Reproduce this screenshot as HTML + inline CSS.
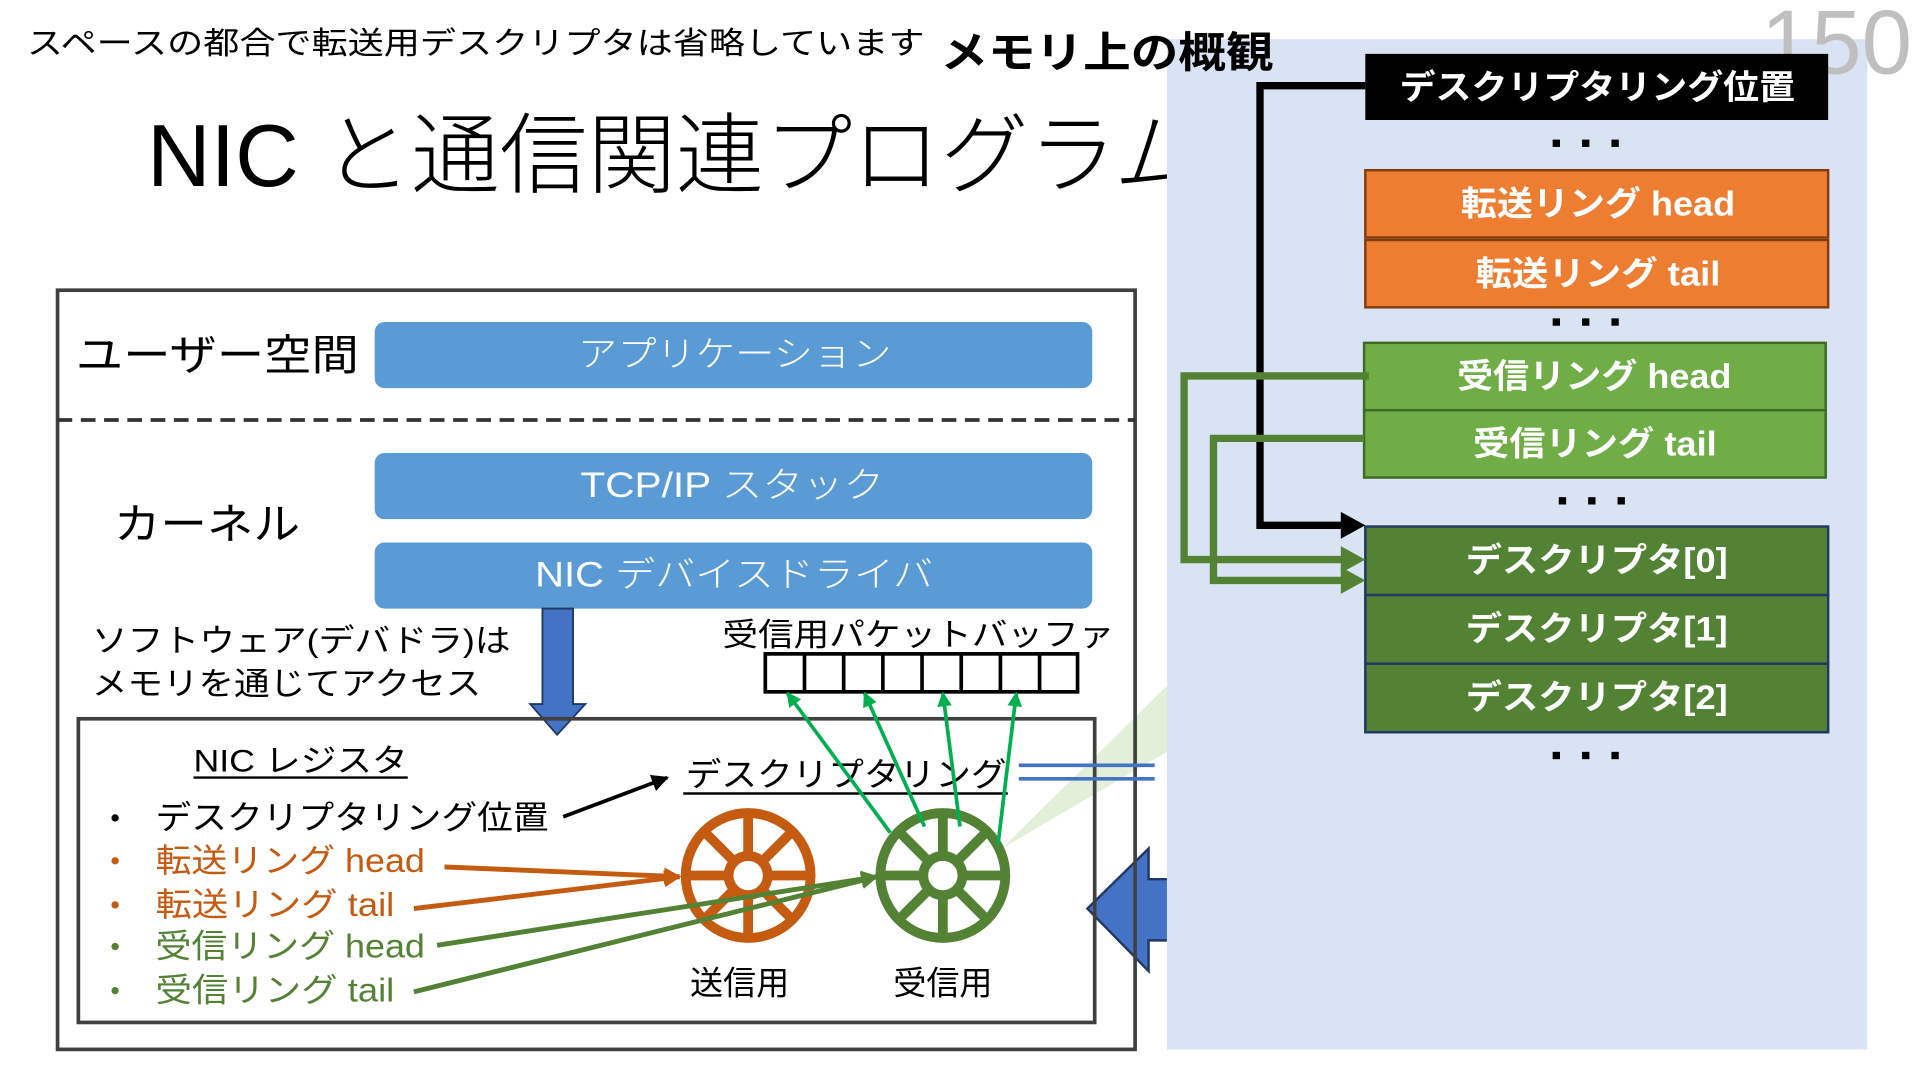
<!DOCTYPE html>
<html><head><meta charset="utf-8"><style>
html,body{margin:0;padding:0;background:#fff;width:1920px;height:1080px;overflow:hidden}
svg{display:block}
text{font-family:"Liberation Sans","Noto Sans CJK JP",sans-serif}
</style></head><body>
<svg width="1920" height="1080" viewBox="0 0 1568 882" preserveAspectRatio="none" xmlns="http://www.w3.org/2000/svg">
<defs>
<marker id="ao" viewBox="0 0 10 10" markerWidth="14" markerHeight="14" refX="9" refY="5" orient="auto" markerUnits="userSpaceOnUse"><path d="M0,0 L10,5 L0,10 Z" fill="#c55a11"/></marker>
<marker id="ag" viewBox="0 0 10 10" markerWidth="14" markerHeight="14" refX="9" refY="5" orient="auto" markerUnits="userSpaceOnUse"><path d="M0,0 L10,5 L0,10 Z" fill="#548235"/></marker>
<marker id="abr" viewBox="0 0 10 10" markerWidth="12" markerHeight="12" refX="9" refY="5" orient="auto" markerUnits="userSpaceOnUse"><path d="M0,0 L10,5 L0,10 Z" fill="#00b050"/></marker>
<marker id="ak" viewBox="0 0 10 10" markerWidth="14" markerHeight="14" refX="9" refY="5" orient="auto" markerUnits="userSpaceOnUse"><path d="M0,0 L10,5 L0,10 Z" fill="#000"/></marker>
</defs>

<text x="22" y="44" font-size="25.5" fill="#000" textLength="733" lengthAdjust="spacingAndGlyphs">スペースの都合で転送用デスクリプタは省略しています</text>
<text x="120" y="152" font-size="72" fill="#000" font-weight="300">NIC と通信関連プログラム</text>

<path d="M888,742 L938,693 L938,718 L960,718 L960,768 L938,768 L938,793 Z" fill="#4472c4" stroke="#1f3864" stroke-width="2"/>
<polygon points="818,693 953,560 953,614" fill="#e2efd9"/>

<rect x="953" y="32" width="572" height="825" fill="#dae3f3"/>
<text x="768" y="55" font-size="35" font-weight="bold" fill="#000" textLength="272" lengthAdjust="spacingAndGlyphs">メモリ上の概観</text>
<text x="1438" y="60" font-size="74" fill="#bfbfbf" font-weight="300">150</text>

<rect x="47" y="237" width="880" height="620" fill="none" stroke="#404040" stroke-width="3"/>
<text x="62" y="302" font-size="35" fill="#000" textLength="231" lengthAdjust="spacingAndGlyphs">ユーザー空間</text>
<rect x="306" y="263" width="586" height="54" rx="8" fill="#5b9bd5"/>
<text x="472" y="299" font-size="29" fill="#fff" font-weight="300" textLength="256" lengthAdjust="spacingAndGlyphs">アプリケーション</text>
<line x1="47" y1="343" x2="927" y2="343" stroke="#333" stroke-width="3" stroke-dasharray="12 7"/>
<rect x="306" y="370" width="586" height="54" rx="8" fill="#5b9bd5"/>
<text x="474" y="406" font-size="29" fill="#fff" font-weight="300" textLength="248" lengthAdjust="spacingAndGlyphs">TCP/IP スタック</text>
<rect x="306" y="443" width="586" height="54" rx="8" fill="#5b9bd5"/>
<text x="437" y="479" font-size="29" fill="#fff" font-weight="300" textLength="325" lengthAdjust="spacingAndGlyphs">NIC デバイスドライバ</text>
<text x="93" y="440" font-size="35" fill="#000" textLength="152" lengthAdjust="spacingAndGlyphs">カーネル</text>
<text x="75" y="532" font-size="26" fill="#000" textLength="342" lengthAdjust="spacingAndGlyphs">ソフトウェア(デバドラ)は</text>
<text x="75" y="567" font-size="26" fill="#000" textLength="318" lengthAdjust="spacingAndGlyphs">メモリを通じてアクセス</text>
<path d="M443,497 L468,497 L468,575 L478,575 L455,600 L433,575 L443,575 Z" fill="#4472c4" stroke="#1f3864" stroke-width="1.5"/>
<text x="590" y="527" font-size="26" fill="#000" textLength="320" lengthAdjust="spacingAndGlyphs">受信用パケットバッファ</text>
<rect x="625" y="534" width="255" height="31" fill="#fff" stroke="#000" stroke-width="3"/>
<g stroke="#000" stroke-width="3">
<line x1="657" y1="534" x2="657" y2="565"/><line x1="689" y1="534" x2="689" y2="565"/><line x1="721" y1="534" x2="721" y2="565"/><line x1="753" y1="534" x2="753" y2="565"/><line x1="785" y1="534" x2="785" y2="565"/><line x1="817" y1="534" x2="817" y2="565"/><line x1="849" y1="534" x2="849" y2="565"/>
</g>

<rect x="64" y="587" width="830" height="248" fill="none" stroke="#404040" stroke-width="3"/>
<text x="158" y="630" font-size="26" fill="#000" textLength="175" lengthAdjust="spacingAndGlyphs">NIC レジスタ</text>
<line x1="158" y1="635" x2="333" y2="635" stroke="#000" stroke-width="2"/>
<circle cx="94" cy="668" r="3" fill="#000"/>
<text x="127" y="677" font-size="27" fill="#000" textLength="321" lengthAdjust="spacingAndGlyphs">デスクリプタリング位置</text>
<circle cx="94" cy="703" r="3" fill="#c55a11"/>
<text x="127" y="712" font-size="27" fill="#c55a11" textLength="220" lengthAdjust="spacingAndGlyphs">転送リング head</text>
<circle cx="94" cy="739" r="3" fill="#c55a11"/>
<text x="127" y="748" font-size="27" fill="#c55a11" textLength="195" lengthAdjust="spacingAndGlyphs">転送リング tail</text>
<circle cx="94" cy="773" r="3" fill="#548235"/>
<text x="127" y="782" font-size="27" fill="#548235" textLength="220" lengthAdjust="spacingAndGlyphs">受信リング head</text>
<circle cx="94" cy="809" r="3" fill="#548235"/>
<text x="127" y="818" font-size="27" fill="#548235" textLength="195" lengthAdjust="spacingAndGlyphs">受信リング tail</text>
<line x1="460" y1="667" x2="545" y2="635" stroke="#000" stroke-width="3" marker-end="url(#ak)"/>
<text x="560" y="642" font-size="27" fill="#000" textLength="262" lengthAdjust="spacingAndGlyphs">デスクリプタリング</text>
<line x1="558" y1="648" x2="823" y2="648" stroke="#000" stroke-width="2"/>
<line x1="832" y1="625" x2="943" y2="625" stroke="#4472c4" stroke-width="3"/>
<line x1="832" y1="636" x2="943" y2="636" stroke="#4472c4" stroke-width="3"/>

<g stroke="#c55a11" stroke-width="8" fill="none">
<circle cx="611" cy="715" r="51"/><circle cx="611" cy="715" r="16"/>
<line x1="560" y1="715" x2="595" y2="715"/><line x1="627" y1="715" x2="662" y2="715"/>
<line x1="611" y1="664" x2="611" y2="699"/><line x1="611" y1="731" x2="611" y2="766"/>
<line x1="575" y1="679" x2="600" y2="704"/><line x1="622" y1="726" x2="647" y2="751"/>
<line x1="647" y1="679" x2="622" y2="704"/><line x1="600" y1="726" x2="575" y2="751"/>
</g>
<g stroke="#548235" stroke-width="8" fill="none">
<circle cx="770" cy="715" r="51"/><circle cx="770" cy="715" r="16"/>
<line x1="719" y1="715" x2="754" y2="715"/><line x1="786" y1="715" x2="821" y2="715"/>
<line x1="770" y1="664" x2="770" y2="699"/><line x1="770" y1="731" x2="770" y2="766"/>
<line x1="734" y1="679" x2="759" y2="704"/><line x1="781" y1="726" x2="806" y2="751"/>
<line x1="806" y1="679" x2="781" y2="704"/><line x1="759" y1="726" x2="734" y2="751"/>
</g>
<text x="604" y="812" font-size="27" fill="#000" text-anchor="middle">送信用</text>
<text x="770" y="812" font-size="27" fill="#000" text-anchor="middle">受信用</text>
<g stroke-width="4">
<line x1="363" y1="708" x2="555" y2="716" stroke="#c55a11" marker-end="url(#ao)"/>
<line x1="338" y1="742" x2="555" y2="716" stroke="#c55a11" marker-end="url(#ao)"/>
<line x1="357" y1="772" x2="716" y2="716" stroke="#548235" marker-end="url(#ag)"/>
<line x1="338" y1="810" x2="716" y2="716" stroke="#548235" marker-end="url(#ag)"/>
</g>
<g stroke="#00b050" stroke-width="3">
<line x1="727" y1="680" x2="643" y2="566" marker-end="url(#abr)"/>
<line x1="755" y1="675" x2="706" y2="566" marker-end="url(#abr)"/>
<line x1="784" y1="675" x2="770" y2="566" marker-end="url(#abr)"/>
<line x1="815" y1="690" x2="830" y2="566" marker-end="url(#abr)"/>
</g>

<rect x="1115" y="44" width="378" height="54" fill="#000"/>
<text x="1143" y="81" font-size="28" font-weight="bold" fill="#fff" textLength="323" lengthAdjust="spacingAndGlyphs">デスクリプタリング位置</text>
<g fill="#000"><rect x="1268" y="114" width="6" height="6"/><rect x="1292" y="114" width="6" height="6"/><rect x="1316" y="114" width="6" height="6"/></g>
<rect x="1115" y="139" width="378" height="55" fill="#ed7d31" stroke="#843c0c" stroke-width="2"/>
<text x="1193" y="176" font-size="28" font-weight="bold" fill="#fff" textLength="224" lengthAdjust="spacingAndGlyphs">転送リング head</text>
<rect x="1115" y="196" width="378" height="55" fill="#ed7d31" stroke="#843c0c" stroke-width="2"/>
<text x="1205" y="233" font-size="28" font-weight="bold" fill="#fff" textLength="200" lengthAdjust="spacingAndGlyphs">転送リング tail</text>
<g fill="#000"><rect x="1268" y="260" width="6" height="6"/><rect x="1292" y="260" width="6" height="6"/><rect x="1316" y="260" width="6" height="6"/></g>
<rect x="1114" y="280" width="377" height="55" fill="#70ad47" stroke="#3d6b25" stroke-width="2"/>
<text x="1190" y="317" font-size="28" font-weight="bold" fill="#fff" textLength="224" lengthAdjust="spacingAndGlyphs">受信リング head</text>
<rect x="1114" y="335" width="377" height="55" fill="#70ad47" stroke="#3d6b25" stroke-width="2"/>
<text x="1203" y="372" font-size="28" font-weight="bold" fill="#fff" textLength="199" lengthAdjust="spacingAndGlyphs">受信リング tail</text>
<g fill="#000"><rect x="1273" y="406" width="6" height="6"/><rect x="1297" y="406" width="6" height="6"/><rect x="1321" y="406" width="6" height="6"/></g>
<rect x="1115" y="430" width="378" height="56" fill="#548235" stroke="#1f3864" stroke-width="2"/>
<text x="1197" y="467" font-size="28" font-weight="bold" fill="#fff" textLength="214" lengthAdjust="spacingAndGlyphs">デスクリプタ[0]</text>
<rect x="1115" y="486" width="378" height="56" fill="#548235" stroke="#1f3864" stroke-width="2"/>
<text x="1197" y="523" font-size="28" font-weight="bold" fill="#fff" textLength="214" lengthAdjust="spacingAndGlyphs">デスクリプタ[1]</text>
<rect x="1115" y="542" width="378" height="56" fill="#548235" stroke="#1f3864" stroke-width="2"/>
<text x="1197" y="579" font-size="28" font-weight="bold" fill="#fff" textLength="214" lengthAdjust="spacingAndGlyphs">デスクリプタ[2]</text>
<g fill="#000"><rect x="1268" y="614" width="6" height="6"/><rect x="1292" y="614" width="6" height="6"/><rect x="1316" y="614" width="6" height="6"/></g>

<polyline points="1115,70 1029,70 1029,429 1097,429" fill="none" stroke="#000" stroke-width="6"/>
<path d="M1095,418 L1115,429 L1095,440 Z" fill="#000"/>
<polyline points="1118,307 967,307 967,457 1097,457" fill="none" stroke="#548235" stroke-width="6"/>
<path d="M1095,446 L1115,457 L1095,468 Z" fill="#548235"/>
<polyline points="1114,358 991,358 991,474 1097,474" fill="none" stroke="#548235" stroke-width="6"/>
<path d="M1095,463 L1115,474 L1095,485 Z" fill="#548235"/>
</svg>
</body></html>
